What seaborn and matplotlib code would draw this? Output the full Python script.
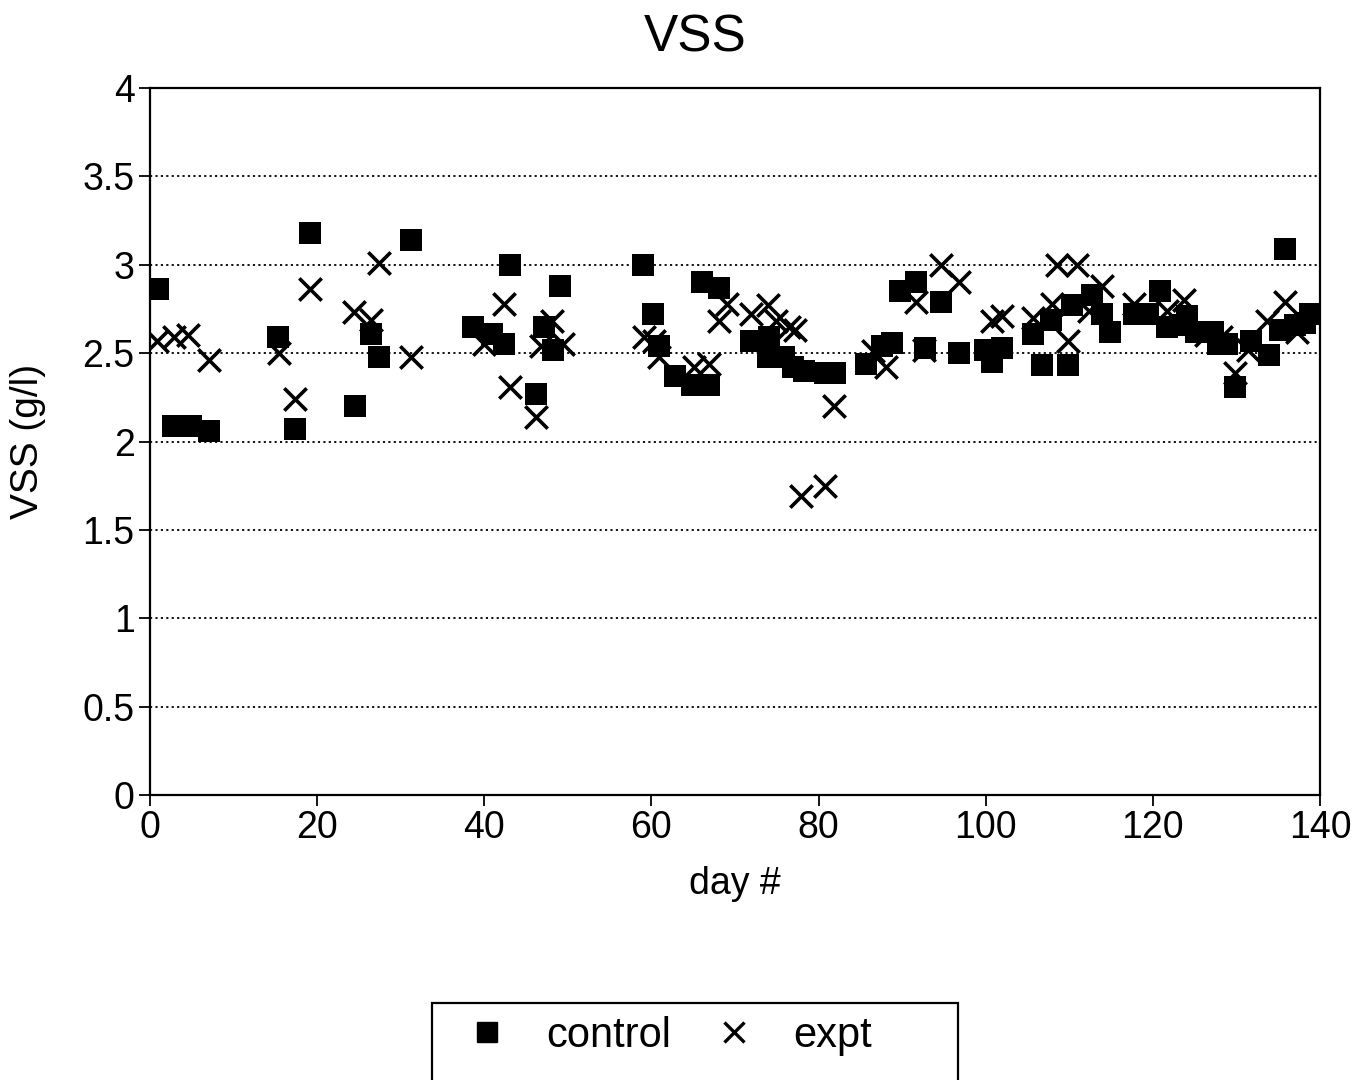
import matplotlib
matplotlib.use("Agg")
import matplotlib.pyplot as plt
import seaborn as sns
import pandas as pd
from matplotlib.patches import Rectangle
from matplotlib.lines import Line2D

control_day = [1.0, 2.8, 3.9, 4.9, 7.1, 15.3, 17.3, 19.2, 24.5, 26.4, 27.4, 31.2,
               38.7, 40.9, 42.3, 43.1, 47.1, 48.2, 46.2, 49.1, 59.0, 60.2, 60.9, 62.8,
               64.8, 66.9, 66.1, 68.1, 71.9, 74.1, 73.9, 75.9, 76.9, 78.2, 80.8, 82.0,
               85.7, 87.6, 88.8, 89.7, 91.7, 94.7, 92.7, 96.8, 99.9, 100.8, 101.9,
               105.7, 106.7, 109.8, 107.8, 110.3, 112.7, 113.9, 114.9, 117.8, 119.4,
               120.9, 121.7, 123.2, 124.1, 125.2, 127.2, 127.8, 128.9, 129.8, 131.8,
               133.9, 135.8, 135.2, 137.0, 138.2, 138.8]
control_vss = [2.86, 2.09, 2.09, 2.09, 2.06, 2.59, 2.07, 3.18, 2.20, 2.61, 2.48, 3.14,
               2.65, 2.61, 2.55, 3.00, 2.65, 2.52, 2.27, 2.88, 3.00, 2.72, 2.54, 2.37,
               2.32, 2.32, 2.90, 2.87, 2.57, 2.59, 2.48, 2.48, 2.42, 2.40, 2.39, 2.39,
               2.44, 2.54, 2.56, 2.85, 2.90, 2.79, 2.53, 2.50, 2.52, 2.45, 2.53,
               2.61, 2.43, 2.43, 2.69, 2.77, 2.83, 2.72, 2.62, 2.72, 2.72,
               2.85, 2.65, 2.66, 2.71, 2.62, 2.62, 2.55, 2.55, 2.31, 2.57,
               2.49, 3.09, 2.63, 2.66, 2.67, 2.72]

expt_day = [0.8, 2.9, 4.6, 7.1, 15.4, 17.3, 19.2, 24.4, 26.4, 27.4, 31.2,
            40.0, 42.3, 43.1, 46.2, 46.8, 48.1, 49.4, 59.1, 60.3, 60.9, 65.1, 66.9,
            68.1, 69.1, 71.9, 73.9, 74.9, 76.5, 77.2, 77.9, 80.8, 81.9, 86.5, 88.1,
            91.7, 92.6, 94.7, 96.8, 100.7, 101.9, 105.6, 107.9, 108.5, 110.9, 109.8,
            112.4, 113.9, 117.8, 121.7, 123.7, 126.4, 128.2, 129.8, 131.4, 133.7,
            135.8, 137.3]
expt_vss = [2.57, 2.59, 2.60, 2.46, 2.50, 2.24, 2.86, 2.73, 2.69, 3.01, 2.48,
            2.55, 2.78, 2.31, 2.14, 2.54, 2.68, 2.55, 2.59, 2.57, 2.48, 2.42, 2.44,
            2.68, 2.78, 2.72, 2.77, 2.68, 2.65, 2.63, 1.69, 1.75, 2.20, 2.51, 2.42,
            2.79, 2.52, 3.00, 2.90, 2.68, 2.71, 2.70, 2.78, 3.00, 3.00, 2.57,
            2.74, 2.88, 2.78, 2.74, 2.80, 2.60, 2.59, 2.39, 2.52, 2.68,
            2.79, 2.62]

x_ticks = [0, 20, 40, 60, 80, 100, 120, 140]
y_ticks = [0, 0.5, 1, 1.5, 2, 2.5, 3, 3.5, 4]
y_tick_labels = ["0", "0.5", "1", "1.5", "2", "2.5", "3", "3.5", "4"]

df_c = pd.DataFrame({"day": control_day, "vss": control_vss, "series": "control"})
df_e = pd.DataFrame({"day": expt_day, "vss": expt_vss, "series": "expt"})

sns.set_theme(style="white")
plt.rcParams["font.family"] = ["Liberation Sans", "DejaVu Sans"]
plt.rcParams["text.color"] = "black"

fig = plt.figure(figsize=(13.66, 10.8), dpi=100)
ax = fig.add_axes([150 / 1366, 1 - 795 / 1080, 1170 / 1366, 707 / 1080])

sns.scatterplot(data=df_c, x="day", y="vss", marker="s", s=260, color="black",
                edgecolor="black", linewidth=0, ax=ax, legend=False, zorder=3)
sns.scatterplot(data=df_e, x="day", y="vss", marker="x", s=260, color="black",
                linewidth=2.6, ax=ax, legend=False, zorder=4)

ax.set_xlim(0, 140)
ax.set_ylim(0, 4)
ax.set_xticks(x_ticks)
ax.set_yticks(y_ticks)
ax.set_yticklabels(y_tick_labels)
for yv in y_ticks[1:-1]:
    ax.axhline(yv, color="black", linestyle=(0, (1.2, 1.8)), linewidth=1.3, zorder=1)

for sp in ax.spines.values():
    sp.set_color("black")
    sp.set_linewidth(1.6)
    sp.set_visible(True)

ax.tick_params(axis="both", which="major", direction="out", length=8, width=1.3,
               color="black", labelsize=27, labelcolor="black", pad=3,
               left=True, bottom=True)
ax.set_xlabel("day #", fontsize=27, color="black", labelpad=14)
ax.set_ylabel("VSS (g/l)", fontsize=28, color="black", labelpad=26)
ax.set_title("VSS", fontsize=37, color="black", pad=26, x=(695 - 150) / 1170)

handles = [Line2D([], [], marker="s", linestyle="none", color="black", markersize=15),
           Line2D([], [], marker="x", linestyle="none", color="black", markersize=14,
                  markeredgewidth=2.4)]
leg = fig.legend(handles, ["control", "expt"], loc="center",
                 bbox_to_anchor=(664 / 1366, 1 - 1036 / 1080), ncol=2, frameon=False,
                 fontsize=30, labelcolor="black", handletextpad=0.68,
                 columnspacing=0.75, handlelength=1.5)

fig.patches.append(Rectangle((432 / 1366, -0.05), 526 / 1366, (1080 - 1003) / 1080 + 0.05,
                             transform=fig.transFigure, fill=False, edgecolor="black",
                             linewidth=1.6))

fig.savefig("out.png", dpi=100)
